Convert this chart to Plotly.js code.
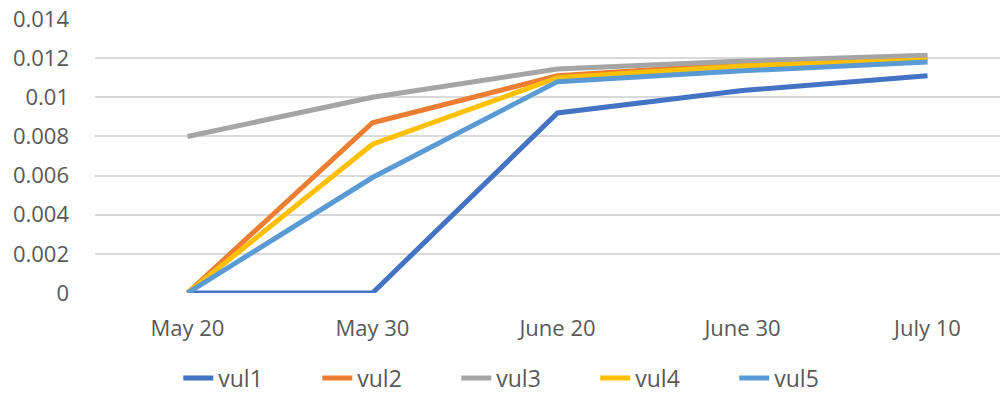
<!DOCTYPE html>
<html>
<head>
<meta charset="utf-8">
<script src="https://cdn.plot.ly/plotly-3.0.1.min.js"></script>
<style>html,body{margin:0;padding:0;background:#fff;}#chart{width:1006px;height:406px;}</style>
</head>
<body>
<div id="chart"></div>
<script>
const categories = ["May 20", "May 30", "June 20", "June 30", "July 10"];
const seriesNames = ["vul1", "vul2", "vul3", "vul4", "vul5"];
const vul1 = [0, 0, 0.0092, 0.01035, 0.0111];
const vul2 = [0, 0.0087, 0.0111, 0.0117, 0.0120];
const vul3 = [0.0080, 0.0100, 0.01145, 0.01185, 0.01215];
const vul4 = [0, 0.0076, 0.0110, 0.0116, 0.0119];
const vul5 = [0, 0.0059, 0.0108, 0.01135, 0.0118];
const seriesValues = [vul1, vul2, vul3, vul4, vul5];
const colors = ["#4472C4", "#ED7D31", "#A5A5A5", "#FFC000", "#5B9BD5"];

const traces = seriesNames.map((name, i) => ({
  type: "scatter",
  mode: "lines",
  name: name,
  x: categories,
  y: seriesValues[i],
  line: {color: colors[i], width: 5},
  hoverinfo: "x+y+name"
}));

const layout = {
  width: 1006,
  height: 406,
  margin: {l: 95, r: 6, t: 19, b: 109},
  paper_bgcolor: "#ffffff",
  plot_bgcolor: "#ffffff",
  font: {family: "Open Sans, Liberation Sans, sans-serif", size: 22, color: "#595959"},
  showlegend: true,
  legend: {
    orientation: "h",
    x: 0.476, xanchor: "center",
    y: -0.31, yanchor: "middle",
    font: {size: 23, color: "#595959"},
    traceorder: "normal",
    entrywidth: 94,
    entrywidthmode: "pixels",
    itemwidth: 30
  },
  xaxis: {
    type: "category",
    range: [-0.5, 4.392],
    showgrid: false,
    zeroline: false,
    showline: false,
    ticks: "",
    ticklabelstandoff: 20,
    tickfont: {size: 22, color: "#595959"},
    fixedrange: true
  },
  yaxis: {
    range: [0, 0.014],
    tickvals: [0, 0.002, 0.004, 0.006, 0.008, 0.01, 0.012, 0.014],
    ticktext: ["0", "0.002", "0.004", "0.006", "0.008", "0.01", "0.012", "0.014"],
    showgrid: true,
    gridcolor: "#D9D9D9",
    gridwidth: 2,
    zeroline: false,
    showline: false,
    ticks: "",
    ticklabelstandoff: 25,
    tickfont: {size: 22, color: "#595959"},
    fixedrange: true
  }
};

Plotly.newPlot("chart", traces, layout, {displayModeBar: false, staticPlot: true});
</script>
</body>
</html>
